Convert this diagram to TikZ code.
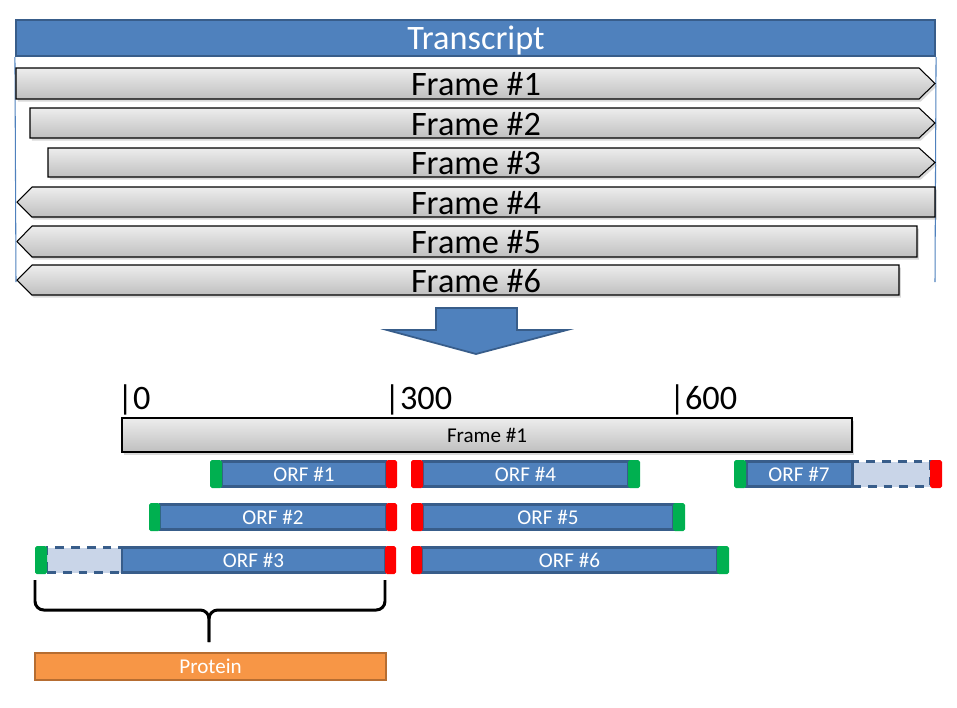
\documentclass[tikz,border=0pt]{standalone}
\usepackage{fontspec}
\setmainfont{Carlito}
\usepackage{tikz}
\usetikzlibrary{shapes}
\usetikzlibrary{fit}
\usetikzlibrary{shadows}
\definecolor{bluefill}{HTML}{4F81BD}
\definecolor{blueline}{HTML}{385D8A}
\definecolor{palefill}{HTML}{C9D5E8}
\definecolor{startgreen}{HTML}{00B050}
\definecolor{stopred}{HTML}{FF0000}
\definecolor{protfill}{HTML}{F79646}
\definecolor{protline}{HTML}{B66D31}
\tikzstyle{transcript} = [rectangle, inner sep=0pt, draw=blueline, line width=1.2pt, fill=bluefill]
\tikzstyle{guide} = [draw=bluefill, line width=0.6pt]
\tikzstyle{framebar} = [draw=black, line width=0.6pt, top color=gray!14, bottom color=gray!50, drop shadow={shadow xshift=1pt, shadow yshift=-1.5pt, opacity=0.3}]
\tikzstyle{bigtext} = [inner sep=0pt, font=\fontsize{19.5}{22}\selectfont]
\tikzstyle{smalltext} = [inner sep=0pt, font=\fontsize{12}{14}\selectfont]
\tikzstyle{ticklabel} = [bigtext, anchor=base west]
\tikzstyle{framebox} = [framebar, rectangle, inner sep=0pt]
\tikzstyle{ORF} = [rectangle, inner sep=0pt, draw=blueline, line width=1.7pt, fill=bluefill]
\tikzstyle{extension} = [rectangle, inner sep=0pt, draw=blueline, line width=1.7pt, dash pattern=on 5pt off 4pt, fill=palefill]
\tikzstyle{startcodon} = [rectangle, inner sep=0pt, fill=startgreen, rounded corners=1pt]
\tikzstyle{stopcodon} = [rectangle, inner sep=0pt, fill=stopred, rounded corners=1pt]
\tikzstyle{downarrow} = [fill=bluefill, draw=blueline, line width=1pt]
\tikzstyle{braceline} = [line width=1.7pt, rounded corners=5pt]
\tikzstyle{protein} = [rectangle, inner sep=0pt, draw=protline, line width=1.5pt, fill=protfill]
\tikzset{every label/.style={smalltext, text=white}}

\begin{document}
\begin{tikzpicture}[x=0.02cm, y=-0.02cm]
    \useasboundingbox (0,0) rectangle (957,707);

    % transcript and its six frames
    \node(Transcript)[transcript, fit={(16,20) (935,56)}]{};
    \node(TranscriptText)[bigtext, text=white, anchor=base] at (476,49) {Transcript};
    \draw[guide] (Transcript.south west) -- (16,282);
    \draw[guide] (Transcript.south east) -- (935,282);

    \path[framebar] (16,68) -- (919,68) -- (935,83.5) -- (919,99) -- (16,99) -- cycle;
    \path[framebar] (30,108) -- (919,108) -- (935,123) -- (919,138) -- (30,138) -- cycle;
    \path[framebar] (48,148) -- (919,148) -- (935,162.5) -- (919,177) -- (48,177) -- cycle;
    \path[framebar] (32,187) -- (935,187) -- (935,217) -- (32,217) -- (17,202) -- cycle;
    \path[framebar] (32,226) -- (917,226) -- (917,257) -- (32,257) -- (17,241.5) -- cycle;
    \path[framebar] (32,265) -- (899,265) -- (899,295) -- (32,295) -- (17,280) -- cycle;
    \node(F1)[bigtext] at (476,84.5) {Frame \#1};
    \node(F2)[bigtext] at (476,124) {Frame \#2};
    \node(F3)[bigtext] at (476,163.5) {Frame \#3};
    \node(F4)[bigtext] at (476,203) {Frame \#4};
    \node(F5)[bigtext] at (476,242.5) {Frame \#5};
    \node(F6)[bigtext] at (476,281) {Frame \#6};

    \draw[downarrow] (436,308) -- (517,308) -- (517,330) -- (567,330) -- (476,354) -- (387,330) -- (436,330) -- cycle;

    % positions along frame 1
    \node(T0)[ticklabel] at (117,409) {|0};
    \node(T300)[ticklabel] at (384,409) {|300};
    \node(T600)[ticklabel] at (669,409) {|600};
    \node(Frame1)[framebox, fit={(122,418) (852,452)}, label={[text=black]center:Frame \#1}]{};

    % open reading frames
    \node(ORF3x)[extension, fit={(47,547.5) (122,572.5)}]{};
    \node(ORF7x)[extension, fit={(852,461.5) (930,486.5)}]{};

    \node(ORF1)[ORF, fit={(222,461.5) (386,486.5)}, label=center:ORF \#1]{};
    \node(ORF2)[ORF, fit={(160,504.5) (386,529.5)}, label=center:ORF \#2]{};
    \node(ORF3)[ORF, fit={(122,547.5) (385,572.5)}, label=center:ORF \#3]{};
    \node(ORF4)[ORF, fit={(423,461.5) (628,486.5)}, label=center:ORF \#4]{};
    \node(ORF5)[ORF, fit={(423,504.5) (673,529.5)}, label=center:ORF \#5]{};
    \node(ORF6)[ORF, fit={(422,547.5) (717,572.5)}, label=center:ORF \#6]{};
    \node(ORF7)[ORF, fit={(746,461.5) (852,486.5)}, label=center:ORF \#7]{};

    \node(ORF1s)[startcodon, fit={(210,460) (222,488)}]{};
    \node(ORF1e)[stopcodon, fit={(386,460) (397,488)}]{};
    \node(ORF2s)[startcodon, fit={(149,503) (160,531)}]{};
    \node(ORF2e)[stopcodon, fit={(386,503) (397,531)}]{};
    \node(ORF3s)[startcodon, fit={(35,546) (47,574)}]{};
    \node(ORF3e)[stopcodon, fit={(385,546) (396,574)}]{};
    \node(ORF4e)[stopcodon, fit={(411,460) (423,488)}]{};
    \node(ORF4s)[startcodon, fit={(628,460) (640,488)}]{};
    \node(ORF5e)[stopcodon, fit={(411,503) (423,531)}]{};
    \node(ORF5s)[startcodon, fit={(673,503) (685,531)}]{};
    \node(ORF6e)[stopcodon, fit={(411,546) (422,574)}]{};
    \node(ORF6s)[startcodon, fit={(717,546) (729,574)}]{};
    \node(ORF7s)[startcodon, fit={(734,460) (746,488)}]{};
    \node(ORF7e)[stopcodon, fit={(930,460) (942,488)}]{};

    % longest ORF gives the protein
    \node(Protein)[protein, fit={(35,653) (386,680)}, label=center:Protein]{};
    \draw[braceline] (35,580) -- (35,610) -- (209,610) -- (209,642);
    \draw[braceline] (385,580) -- (385,610) -- (209,610) -- (209,642);

\end{tikzpicture}
\end{document}
